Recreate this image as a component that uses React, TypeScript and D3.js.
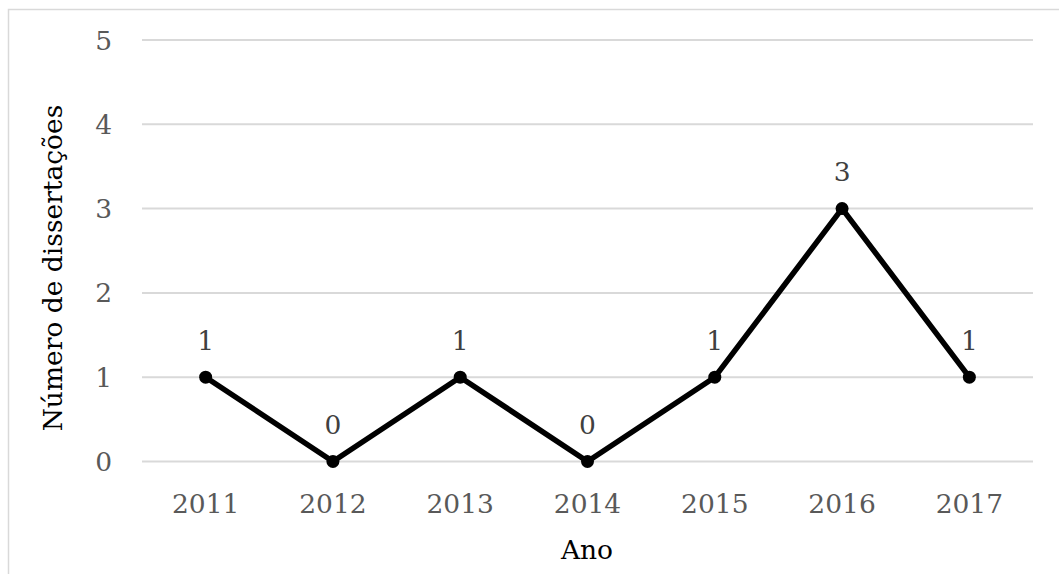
import * as d3 from "d3";

const years = ["2011", "2012", "2013", "2014", "2015", "2016", "2017"];
const counts = [1, 0, 1, 0, 1, 3, 1];
const yTicks = [0, 1, 2, 3, 4, 5];

export default function App() {
  const width = 1059;
  const height = 574;
  const font = "'DejaVu Serif', serif";
  const fs = 26.5;

  const x = d3.scaleBand().domain(years).range([142, 1033]).paddingInner(0).paddingOuter(0);
  const y = d3.scaleLinear().domain([0, 5]).range([461.5, 40]);
  const cx = (d: string) => (x(d) ?? 0) + x.bandwidth() / 2;

  const line = d3
    .line<number>()
    .x((_, i) => cx(years[i]))
    .y((d) => y(d));

  return (
    <svg
      width={width}
      height={height}
      style={{ position: "absolute", left: 0, top: 0, background: "#fff" }}
    >
      <rect x={8.5} y={9.5} width={1200} height={700} fill="#fff" stroke="#d9d9d9" strokeWidth={1.5} />
      {yTicks.map((t) => (
        <g key={t}>
          <line x1={142} x2={1033} y1={y(t)} y2={y(t)} stroke="#d9d9d9" strokeWidth={2} />
          <text
            x={112}
            y={y(t)}
            dy="0.36em"
            textAnchor="end"
            fontFamily={font}
            fontSize={fs}
            fill="#595959"
          >
            {t}
          </text>
        </g>
      ))}
      {years.map((yr) => (
        <text
          key={yr}
          x={cx(yr)}
          y={503}
          dy="0.36em"
          textAnchor="middle"
          fontFamily={font}
          fontSize={fs}
          fill="#595959"
        >
          {yr}
        </text>
      ))}
      <path d={line(counts) ?? ""} fill="none" stroke="#000" strokeWidth={5.5} strokeLinejoin="round" />
      {counts.map((c, i) => (
        <g key={i}>
          <circle cx={cx(years[i])} cy={y(c)} r={6.5} fill="#000" />
          <text
            x={cx(years[i])}
            y={y(c) - 37}
            dy="0.36em"
            textAnchor="middle"
            fontFamily={font}
            fontSize={fs}
            fill="#404040"
          >
            {c}
          </text>
        </g>
      ))}
      <text
        transform={`translate(52, 268) rotate(-90)`}
        dy="0.36em"
        textAnchor="middle"
        fontFamily={font}
        fontSize={fs}
        fill="#000"
      >
        Número de dissertações
      </text>
      <text x={587} y={549} dy="0.36em" textAnchor="middle" fontFamily={font} fontSize={fs} fill="#000">
        Ano
      </text>
    </svg>
  );
}
